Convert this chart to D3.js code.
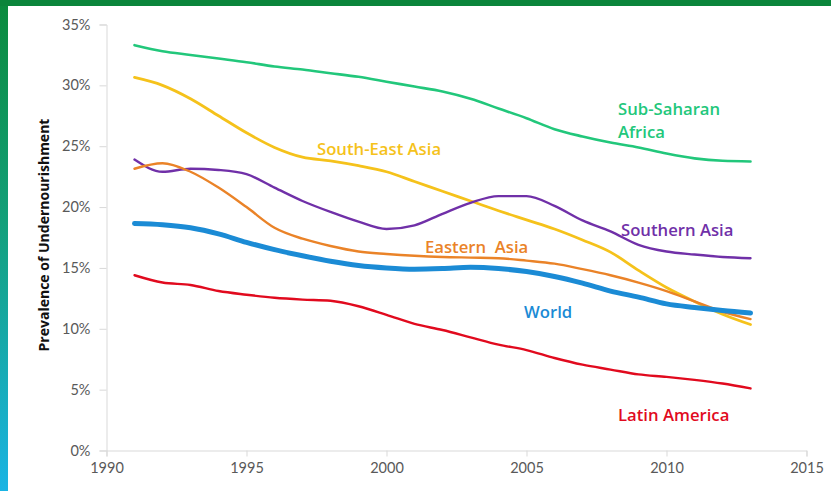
<!DOCTYPE html>
<html>
<head>
<meta charset="utf-8">
<script src="https://cdn.jsdelivr.net/npm/d3@7"></script>
<style>
  html, body { margin: 0; padding: 0; background: #fff; }
  svg { display: block; }
</style>
</head>
<body>
<svg id="chart" width="831" height="491"></svg>
<script>
// ---- data ----
const years = d3.range(1991, 2014);
const subSaharanAfrica = [33.3, 32.8, 32.5, 32.2, 31.9, 31.55, 31.3, 31.0, 30.7, 30.3, 29.9, 29.5, 28.9, 28.1, 27.3, 26.4, 25.8, 25.3, 24.9, 24.4, 24.0, 23.8, 23.75];
const southEastAsia = [30.65, 30.0, 28.9, 27.5, 26.1, 24.9, 24.1, 23.8, 23.4, 22.9, 22.1, 21.3, 20.5, 19.7, 18.95, 18.2, 17.3, 16.3, 14.8, 13.4, 12.25, 11.2, 10.35];
const southernAsia = [23.9, 22.9, 23.15, 23.05, 22.7, 21.6, 20.5, 19.6, 18.8, 18.2, 18.5, 19.45, 20.35, 20.9, 20.9, 20.1, 18.9, 18.0, 16.9, 16.35, 16.1, 15.9, 15.8];
const easternAsia = [23.15, 23.6, 22.9, 21.6, 20.0, 18.3, 17.4, 16.8, 16.35, 16.15, 16.0, 15.9, 15.85, 15.8, 15.6, 15.35, 14.9, 14.4, 13.8, 13.1, 12.25, 11.4, 10.8];
const world = [18.65, 18.55, 18.3, 17.8, 17.1, 16.5, 16.0, 15.55, 15.2, 15.0, 14.9, 14.95, 15.05, 14.95, 14.7, 14.3, 13.75, 13.1, 12.6, 12.05, 11.75, 11.5, 11.3];
const latinAmerica = [14.4, 13.8, 13.6, 13.1, 12.8, 12.55, 12.4, 12.3, 11.85, 11.15, 10.4, 9.9, 9.3, 8.7, 8.25, 7.6, 7.05, 6.65, 6.25, 6.05, 5.8, 5.5, 5.1];
const xTicks = [1990, 1995, 2000, 2005, 2010, 2015];
const yTicks = [0, 5, 10, 15, 20, 25, 30, 35];
const yTitle = "Prevalence of Undernourishment";

const series = [
  { name: "Sub-Saharan Africa", values: subSaharanAfrica, color: "#22c77b", width: 2.6, label: ["Sub-Saharan", "Africa"], lx: 618, ly: 115 },
  { name: "South-East Asia", values: southEastAsia, color: "#f5c21b", width: 2.8, label: ["South-East Asia"], lx: 317, ly: 155 },
  { name: "Southern Asia", values: southernAsia, color: "#7030a8", width: 2.4, label: ["Southern Asia"], lx: 621, ly: 236 },
  { name: "Eastern Asia", values: easternAsia, color: "#ea8328", width: 2.4, label: ["Eastern\u00a0 Asia"], lx: 425, ly: 253 },
  { name: "World", values: world, color: "#1b8bd5", width: 5, label: ["World"], lx: 524, ly: 318 },
  { name: "Latin America", values: latinAmerica, color: "#e10a1e", width: 2.4, label: ["Latin America"], lx: 618, ly: 421 }
];

// ---- layout ----
const svg = d3.select("#chart");
const W = 831, H = 491;
const x = d3.scaleLinear().domain([1990, 2015]).range([106.5, 806.5]);
const y = d3.scaleLinear().domain([0, 35]).range([450.5, 24.5]);

// background frame
const defs = svg.append("defs");
const grad = defs.append("linearGradient").attr("id", "leftbar").attr("x1", 0).attr("y1", 0).attr("x2", 0).attr("y2", 1);
grad.append("stop").attr("offset", "0%").attr("stop-color", "#0b8a3c");
grad.append("stop").attr("offset", "45%").attr("stop-color", "#13a07a");
grad.append("stop").attr("offset", "100%").attr("stop-color", "#1ab4e4");
svg.append("rect").attr("x", 0).attr("y", 0).attr("width", W).attr("height", H).attr("fill", "#ffffff");
svg.append("rect").attr("x", 0).attr("y", 0).attr("width", 8).attr("height", H).attr("fill", "url(#leftbar)");
svg.append("rect").attr("x", 0).attr("y", 0).attr("width", W).attr("height", 6).attr("fill", "#0b853b");

const tickFont = "Lato, 'Open Sans', sans-serif";

// y axis
const yAxis = d3.axisLeft(y).tickValues(yTicks).tickFormat(d => d + "%").tickSize(7).tickPadding(9);
const gy = svg.append("g").attr("transform", `translate(${x(1990)},0)`).call(yAxis);
gy.select(".domain").attr("stroke", "#d9d9d9");
gy.selectAll(".tick line").attr("stroke", "#d9d9d9");
gy.selectAll(".tick text").attr("fill", "#595959").style("font-family", tickFont).style("font-size", "14.5px");

// x axis
const xAxis = d3.axisBottom(x).tickValues(xTicks).tickFormat(d3.format("d")).tickSize(6).tickPadding(6);
const gx = svg.append("g").attr("transform", `translate(0,${y(0)})`).call(xAxis);
gx.select(".domain").attr("stroke", "#d9d9d9");
gx.selectAll(".tick line").attr("stroke", "#d9d9d9");
gx.selectAll(".tick text").attr("fill", "#595959").style("font-family", tickFont).style("font-size", "14.5px");

// y title
svg.append("text")
  .attr("transform", `translate(49,235) rotate(-90)`)
  .attr("text-anchor", "middle")
  .style("font-family", "'Open Sans', sans-serif")
  .style("font-weight", 700)
  .style("font-size", "14px")
  .attr("fill", "#111")
  .text(yTitle);

// lines
const line = d3.line().x((d, i) => x(years[i])).y(d => y(d)).curve(d3.curveMonotoneX);
const order = [0, 1, 2, 3, 5, 4];
order.forEach(k => {
  const s = series[k];
  svg.append("path").datum(s.values)
    .attr("fill", "none").attr("stroke", s.color).attr("stroke-width", s.width)
    .attr("stroke-linejoin", "round").attr("stroke-linecap", "round")
    .attr("d", line);
});

// labels
series.forEach(s => {
  const t = svg.append("text")
    .attr("x", s.lx).attr("y", s.ly)
    .style("font-family", "'Open Sans', sans-serif")
    .style("font-weight", 600)
    .style("font-size", "16.7px")
    .attr("fill", s.color);
  s.label.forEach((l, i) => {
    t.append("tspan").attr("x", s.lx).attr("dy", i === 0 ? 0 : 23).text(l);
  });
});
</script>
</body>
</html>
